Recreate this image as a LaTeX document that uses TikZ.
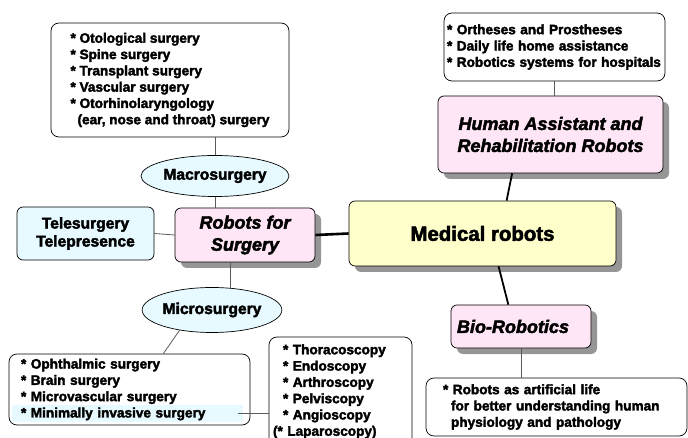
\documentclass[tikz,border=0pt]{standalone}
\usepackage{fontspec}
\setmainfont{Liberation Sans}[BoldFeatures={FakeBold=2.5},BoldItalicFeatures={FakeBold=2.5}]
\usetikzlibrary{shapes.geometric,shadows,calc}

\definecolor{topicpink}{RGB}{255,230,246}
\definecolor{paleblue}{RGB}{230,250,255}
\definecolor{paleyellow}{RGB}{255,255,204}
\definecolor{shadowgray}{RGB}{150,150,150}
\definecolor{linegray}{RGB}{90,90,90}

\tikzset{
  listbox/.style={draw,rounded corners=8pt,align=left,inner ysep=0pt,line width=0.7pt},
  topicbox/.style={draw,rounded corners=6pt,align=center,inner sep=0pt,line width=0.7pt,
    fill=topicpink,drop shadow={shadow xshift=6pt,shadow yshift=-6pt,fill=shadowgray,opacity=1}},
  bubble/.style={ellipse,draw,fill=paleblue,inner sep=0pt,line width=0.7pt},
  thinline/.style={draw=linegray,line width=0.8pt},
  boldline/.style={draw=black,line width=1.8pt},
}

\begin{document}
\begin{tikzpicture}[x=1pt,y=-1pt]
    \providecommand{\listfontsize}{\fontsize{13.6}{16.3}\selectfont}
    \providecommand{\bubblefontsize}{\fontsize{15.6}{18}\selectfont}
    \providecommand{\topicfontsize}{\fontsize{18}{22}\selectfont}
    \providecommand{\mainfontsize}{\fontsize{20.4}{24}\selectfont}
    \useasboundingbox (0,0) rectangle (688,438);
    \clip (0,0) rectangle (688,438);
    % main topics
    \node[topicbox,fill=paleyellow,minimum width=267,minimum height=65,font=\mainfontsize\bfseries] (medical) at (482.5,233.5) {Medical robots};
    \node[topicbox,minimum width=140,minimum height=54,font=\topicfontsize\bfseries\itshape] (surgery) at (245,235) {Robots for\\Surgery};
    \node[topicbox,minimum width=225,minimum height=77,font=\topicfontsize\bfseries\itshape] (human) at (550.5,134.5) {Human Assistant and\\Rehabilitation Robots};
    \node[topicbox,align=left,text width=128,inner xsep=6,minimum height=43,font=\topicfontsize\bfseries\itshape] (bio) at (521,326.5) {Bio-Robotics};
    \node[draw,fill=paleblue,rounded corners=6pt,align=center,minimum width=137,minimum height=53,inner sep=0pt,line width=0.7pt,font=\bubblefontsize\bfseries] (tele) at (85.5,233.5) {Telesurgery\\Telepresence};
    \node[bubble,minimum width=148,minimum height=41,font=\bubblefontsize\bfseries] (macro) at (215,176) {Macrosurgery};
    \node[bubble,minimum width=137,minimum height=45,font=\bubblefontsize\bfseries] (micro) at (212,310) {Microsurgery};
    % lists
    \node[listbox,minimum width=238,minimum height=114,font=\listfontsize\bfseries] (macrolist) at (170,80)
    {{*} Otological surgery\\{*} Spine surgery\\{*} Transplant surgery\\{*} Vascular surgery\\{*} Otorhinolaryngology\\\hspace*{7pt}(ear, nose and throat) surgery};
    \node[listbox,text width=215,inner xsep=3,minimum height=68,font=\listfontsize\bfseries] (ortlist) at (554.5,47)
    {{*} Ortheses and Prostheses\\{*} Daily life home assistance\\{*} Robotics systems for hospitals};
    \node[fill=paleblue,minimum width=231,minimum height=17,inner sep=0pt] (minvas) at (127.5,413.5) {};
    \node[listbox,text width=217,inner xsep=12,minimum height=71,font=\listfontsize\bfseries] (microlist) at (129.5,389.5)
    {{*} Ophthalmic surgery\\{*} Brain surgery\\{*} Microvascular surgery\\{*} Minimally invasive surgery};
    \node[listbox,text width=115,inner xsep=14,minimum height=109,font=\listfontsize\bfseries] (scopy) at (340.5,391.5)
    {{*} Thoracoscopy\\{*} Endoscopy\\{*} Arthroscopy\\{*} Pelviscopy\\{*} Angioscopy\\\hspace*{-10pt}({*} Laparoscopy)};
    \node[listbox,text width=227,inner xsep=17,minimum height=58,font=\listfontsize\bfseries] (biolist) at (556.5,407)
    {{*} Robots as artificial life\\\hspace*{8pt}for better understanding human\\\hspace*{8pt}physiology and pathology};
    % connectors
    \draw[thinline] (macro.north) -- (macro.north |- macrolist.south);
    \draw[thinline] (macro.south) -- (macro.south |- surgery.north);
    \draw[thinline] (tele.east) -- (surgery.west);
    \draw[draw=black,line width=2.6pt] (surgery.east) -- (medical.west);
    \draw[thinline] (micro.50) -- (micro.50 |- surgery.south);
    \draw[thinline] (micro.212) -- ($(microlist.north west)!0.64!(microlist.north east)$);
    \draw[thinline] ([xshift=-5pt]minvas.east) -- (scopy.west |- minvas.east);
    \draw[thinline] (ortlist.south) -- (ortlist.south |- human.north);
    \draw[boldline] ($(human.south west)!0.33!(human.south east)$) -- ($(medical.north west)!0.59!(medical.north east)$);
    \draw[boldline] ($(medical.south west)!0.56!(medical.south east)$) -- ($(bio.north west)!0.41!(bio.north east)$);
    \draw[thinline] (bio.south) -- (bio.south |- biolist.north);
\end{tikzpicture}
\end{document}
